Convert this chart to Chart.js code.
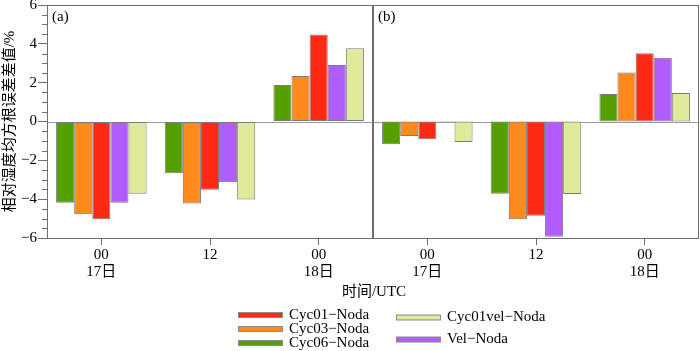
<!DOCTYPE html>
<html><head><meta charset="utf-8">
<script src="https://cdn.jsdelivr.net/npm/chart.js@4/dist/chart.umd.min.js"></script>
<style>
html,body{margin:0;padding:0;background:#fff;}
#wrap{position:relative;width:700px;height:351px;overflow:hidden;}
canvas{position:absolute;top:0;}
#ca{left:0;}
#cb{left:373px;}
</style></head><body>
<div id="wrap"><canvas id="ca" width="700" height="351"></canvas><canvas id="cb" width="327" height="351"></canvas></div>
<script>
const categories = [["00","17日"],["12"],["00","18日"]];
const seriesNames = ["Cyc06−Noda","Cyc03−Noda","Cyc01−Noda","Vel−Noda","Cyc01vel−Noda"];
const seriesColors = ["#55a000","#ff8a1c","#ff2a14","#b05cff","#e1e99a"];
// panel (a)
const a_Cyc06 = [-4.18, -2.67, 1.88];
const a_Cyc03 = [-4.78, -4.22, 2.34];
const a_Cyc01 = [-5.03, -3.52, 4.48];
const a_Vel = [-4.18, -3.13, 2.91];
const a_Cyc01vel = [-3.72, -4.02, 3.77];
// panel (b)
const b_Cyc06 = [-1.17, -3.72, 1.42];
const b_Cyc03 = [-0.75, -5.03, 2.52];
const b_Cyc01 = [-0.91, -4.85, 3.52];
const b_Vel = [0.02, -5.93, 3.28];
const b_Cyc01vel = [-1.06, -3.74, 1.47];
const yMin = -6, yMax = 6, yStep = 2, yMinorStep = 0.5;
const yTitle = "相对湿度均方根误差差值/%";
const xTitle = "时间/UTC";
const legendLeft = [2, 1, 0];
const legendRight = [4, 3];

const FONT = '"Liberation Serif", "Noto Sans CJK SC", serif';
const AXIS = '#6e6e6e';

function makeDatasets(arrs){
  return arrs.map((d,i)=>({
    label: seriesNames[i], data: d,
    backgroundColor: seriesColors[i], borderColor: '#7a7a7a', borderWidth: 1,
    borderSkipped: false, barPercentage: 1.0, categoryPercentage: 0.833
  }));
}

function framePlugin(label, isLeft){
  return {
    id: 'frame'+label,
    beforeDatasetsDraw(chart){
      const {ctx, chartArea:ca, scales:{y}} = chart;
      const y0 = Math.round(y.getPixelForValue(0)) + 0.5;
      ctx.save();
      ctx.strokeStyle = '#9a9a9a'; ctx.lineWidth = 1;
      ctx.beginPath(); ctx.moveTo(ca.left, y0); ctx.lineTo(ca.right, y0); ctx.stroke();
      ctx.restore();
    },
    afterDatasetsDraw(chart){
      const {ctx, chartArea:ca, scales:{y}} = chart;
      ctx.save();
      ctx.strokeStyle = AXIS; ctx.lineWidth = 1;
      const l = Math.round(ca.left)+0.5, r = Math.round(ca.right)-0.5, t = Math.round(ca.top)+0.5, b = Math.round(ca.bottom)+0.5;
      ctx.strokeRect(l, t, r-l, b-t);
      if (isLeft){
        // minor ticks
        ctx.beginPath();
        for (let v = yMin; v <= yMax + 1e-9; v += yMinorStep){
          if (Math.abs(v % yStep) < 1e-9) continue;
          const py = Math.round(y.getPixelForValue(v)) + 0.5;
          ctx.moveTo(l - 5.5, py); ctx.lineTo(l, py);
        }
        ctx.stroke();
      }
      ctx.fillStyle = '#000';
      ctx.font = '15px ' + FONT;
      ctx.textAlign = 'left'; ctx.textBaseline = 'middle';
      ctx.fillText(label, ca.left + 5, ca.top + 12);
      if (isLeft){
        ctx.save();
        ctx.translate(10, (ca.top + ca.bottom)/2);
        ctx.rotate(-Math.PI/2);
        ctx.textAlign = 'center';
        ctx.fillText(yTitle, 0, 0);
        ctx.restore();
        ctx.textAlign = 'center';
        ctx.fillText(xTitle, 374, 292);
        // legend
        ctx.textAlign = 'left';
        const drawItem = (idx, bx, by, tx) => {
          ctx.fillStyle = seriesColors[idx];
          ctx.fillRect(bx, by - 2.5, 45, 5);
          ctx.strokeStyle = '#8a8a8a';
          ctx.strokeRect(bx + 0.5, by - 2.5, 44, 5);
          ctx.fillStyle = '#000';
          ctx.fillText(seriesNames[idx], tx, by);
        };
        const lrows = [315, 329, 343];
        legendLeft.forEach((idx, k) => drawItem(idx, 238, lrows[k], 289));
        const rrows = [317.5, 339.5];
        legendRight.forEach((idx, k) => drawItem(idx, 396, rrows[k], 447));
      }
      ctx.restore();
    }
  };
}

function xScale(){
  return {
    type: 'category', offset: true,
    grid: {display: true, drawOnChartArea: false, drawTicks: true, tickLength: 7, color: AXIS, offset: false},
    border: {display: false},
    ticks: {font: {family: FONT, size: 15, lineHeight: 1.1}, color: '#000', padding: 2, maxRotation: 0, minRotation: 0, autoSkip: false},
    afterFit(s){ s.height = 50; s.paddingLeft = 0; s.paddingRight = 0; }
  };
}

new Chart(document.getElementById('ca'), {
  type: 'bar',
  data: {labels: categories, datasets: makeDatasets([a_Cyc06, a_Cyc03, a_Cyc01, a_Vel, a_Cyc01vel])},
  options: {
    responsive: false, animation: false, devicePixelRatio: 1,
    layout: {padding: {left: 0, top: 5, right: 327, bottom: 63}},
    plugins: {legend: {display: false}, tooltip: {enabled: false}},
    scales: {
      x: xScale(),
      y: {
        min: yMin, max: yMax,
        ticks: {stepSize: yStep, font: {family: FONT, size: 15}, color: '#000', padding: 1,
          callback: v => String(v).replace('-', '−')},
        grid: {display: true, drawOnChartArea: false, tickLength: 9, color: AXIS},
        border: {display: false},
        afterFit(s){ s.width = 47; s.paddingTop = 0; s.paddingBottom = 0; }
      }
    }
  },
  plugins: [framePlugin('(a)', true)]
});

new Chart(document.getElementById('cb'), {
  type: 'bar',
  data: {labels: categories, datasets: makeDatasets([b_Cyc06, b_Cyc03, b_Cyc01, b_Vel, b_Cyc01vel])},
  options: {
    responsive: false, animation: false, devicePixelRatio: 1,
    layout: {padding: {left: 0, top: 5, right: 1, bottom: 63}},
    plugins: {legend: {display: false}, tooltip: {enabled: false}},
    scales: {
      x: xScale(),
      y: {min: yMin, max: yMax, display: false}
    }
  },
  plugins: [framePlugin('(b)', false)]
});
</script>
</body></html>
